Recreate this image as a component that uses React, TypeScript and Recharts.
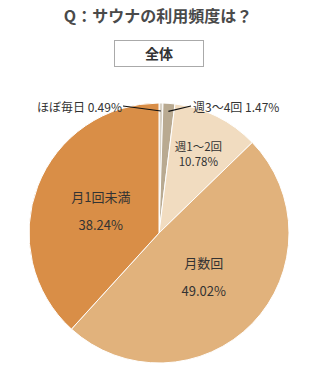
import { PieChart, Pie, Cell } from "recharts"

const categories = ["ほぼ毎日", "週3～4回", "週1～2回", "月数回", "月1回未満"]
const shares = [0.49, 1.47, 10.78, 49.02, 38.24]
const colors = ["#d8d2c6", "#b9aa91", "#f1dcc0", "#e1b27c", "#d98e47"]

const data = categories.map((name, i) => ({ name, value: shares[i] }))

const RAD = Math.PI / 180
const FONT = "'Noto Sans CJK JP', 'Noto Sans', sans-serif"

function renderLabel(props: any) {
  const { cx, cy, midAngle, outerRadius, index, name, value } = props
  const text = `${value.toFixed(2)}%`
  const cos = Math.cos(-midAngle * RAD)
  const sin = Math.sin(-midAngle * RAD)

  // two tiny slices at the top: labels off to the side with leader lines
  if (index < 2) {
    const ax = cx + (outerRadius - 8) * cos
    const ay = cy + (outerRadius - 8) * sin
    const left = index === 0
    const ty = cy - outerRadius + 3
    const tx = left ? cx - 37 : cx + 34
    return (
      <g key={`lbl-${index}`}>
        <line
          x1={left ? tx + 1 : tx - 2}
          y1={ty}
          x2={ax}
          y2={ay}
          stroke="#111"
          strokeWidth={1.2}
        />
        <text
          x={tx}
          y={ty}
          textAnchor={left ? "end" : "start"}
          dominantBaseline="central"
          fontSize={12}
          fontFamily={FONT}
          fill="#333"
        >
          {name} {text}
        </text>
      </g>
    )
  }

  const small = index === 2
  const r = outerRadius * (small ? 0.68 : 0.48)
  const x = cx + r * cos
  const y = cy + r * sin
  const gap = small ? 7.5 : 14
  const fs = small ? 11.5 : 13
  return (
    <g key={`lbl-${index}`}>
      <text
        x={x}
        y={y - gap}
        textAnchor="middle"
        dominantBaseline="central"
        fontSize={fs}
        fontFamily={FONT}
        fill="#333"
      >
        {name}
      </text>
      <text
        x={x}
        y={y + gap}
        textAnchor="middle"
        dominantBaseline="central"
        fontSize={fs}
        fontFamily={FONT}
        fill="#333"
      >
        {text}
      </text>
    </g>
  )
}

export default function App() {
  return (
    <div
      style={{
        position: "absolute",
        left: 0,
        top: 0,
        width: 316,
        height: 368,
        background: "#fff",
        fontFamily: FONT,
      }}
    >
      <div
        style={{
          position: "absolute",
          left: 0,
          top: 3,
          width: 316,
          textAlign: "center",
          fontSize: 16,
          fontWeight: "bold",
          color: "#4a4a4a",
        }}
      >
        Q：サウナの利用頻度は？
      </div>
      <div
        style={{
          position: "absolute",
          left: 114,
          top: 40,
          width: 88,
          height: 25,
          border: "1px solid #aaa",
          boxSizing: "content-box",
          textAlign: "center",
          lineHeight: "25px",
          fontSize: 14,
          fontWeight: "bold",
          color: "#333",
        }}
      >
        全体
      </div>
      <div style={{ position: "absolute", left: 0, top: 0 }}>
        <PieChart
          width={316}
          height={368}
          margin={{ top: 0, right: 0, bottom: 0, left: 0 }}
        >
          <Pie
            data={data}
            dataKey="value"
            nameKey="name"
            cx={159}
            cy={233}
            outerRadius={130}
            startAngle={90}
            endAngle={-270}
            stroke="#fff"
            strokeWidth={1}
            label={renderLabel}
            labelLine={false}
            isAnimationActive={false}
          >
            {data.map((d, i) => (
              <Cell key={d.name} fill={colors[i]} />
            ))}
          </Pie>
        </PieChart>
      </div>
    </div>
  )
}
